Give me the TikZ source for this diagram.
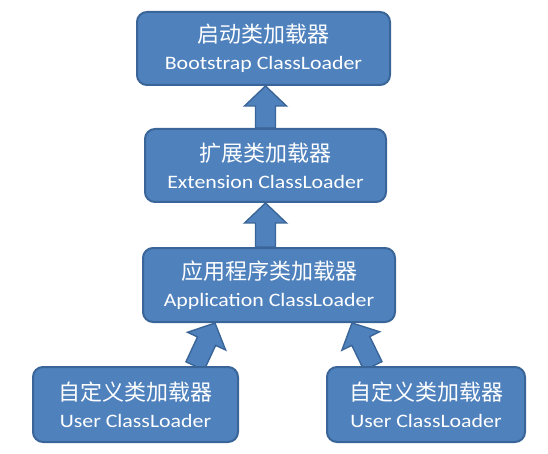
\documentclass[tikz,border=0pt]{standalone}
\usepackage{fontspec}
\setmainfont{Carlito}[FakeStretch=1.15]
\newfontfamily\cjk{Noto Sans CJK SC}
\usetikzlibrary{calc}
\definecolor{boxfill}{HTML}{4F81BD}
\definecolor{boxline}{HTML}{3A6598}
\pgfdeclarelayer{bg}
\pgfsetlayers{bg,main}
\tikzset{
  loader/.style={draw=boxline, line width=2pt, fill=boxfill, rounded corners=10pt,
    text=white, align=center, inner sep=0pt, font=\fontsize{19}{27}\selectfont},
  blockarrow/.style={draw=boxline, line width=1.4pt, fill=boxfill, line join=miter}
}
\newcommand{\blockarrow}[2]{%
  \coordinate (H) at ($(#2)!20pt!(#1)$);
  \draw[blockarrow]
    ($(#1)!10pt!90:(#2)$) -- ($(H)!10pt!90:(#2)$) -- ($(H)!21pt!90:(#2)$) --
    (#2) --
    ($(H)!21pt!-90:(#2)$) -- ($(H)!10pt!-90:(#2)$) -- ($(#1)!10pt!-90:(#2)$) -- cycle;}
\begin{document}
\begin{tikzpicture}[x=1pt,y=-1pt]
\useasboundingbox (0,0) rectangle (548,454);
\node[loader, minimum width=253pt, minimum height=73pt] (boot) at (263.5,48.5)
  {{\cjk\fontsize{22}{27}\selectfont 启动类加载器}\\Bootstrap ClassLoader};
\node[loader, minimum width=241pt, minimum height=73pt] (ext) at (265.5,165.5)
  {{\cjk\fontsize{22}{27}\selectfont 扩展类加载器}\\Extension ClassLoader};
\node[loader, minimum width=252pt, minimum height=74pt] (app) at (269,285)
  {{\cjk\fontsize{22}{27}\selectfont 应用程序类加载器}\\Application ClassLoader};
\node[loader, minimum width=205pt, minimum height=75pt] (u1) at (135.5,404.5)
  {{\cjk\fontsize{22}{27}\selectfont 自定义类加载器}\\User ClassLoader};
\node[loader, minimum width=198pt, minimum height=75pt] (u2) at (426,404.5)
  {{\cjk\fontsize{22}{27}\selectfont 自定义类加载器}\\User ClassLoader};
\path (ext.north) coordinate (e1) (boot.south -| ext.north) coordinate (b1);
\path (app.north -| ext.south) coordinate (a1) (ext.south) coordinate (e2);
\path (u1.north) ++(59.5,0) coordinate (l1) (app.south) ++(-54,0) coordinate (l2);
\path (u2.north) ++(-53,0) coordinate (r1) (app.south) ++(83,0) coordinate (r2);
\begin{pgfonlayer}{bg}
\blockarrow{e1}{b1}
\blockarrow{a1}{e2}
\blockarrow{l1}{l2}
\blockarrow{r1}{r2}
\end{pgfonlayer}
\end{tikzpicture}
\end{document}
